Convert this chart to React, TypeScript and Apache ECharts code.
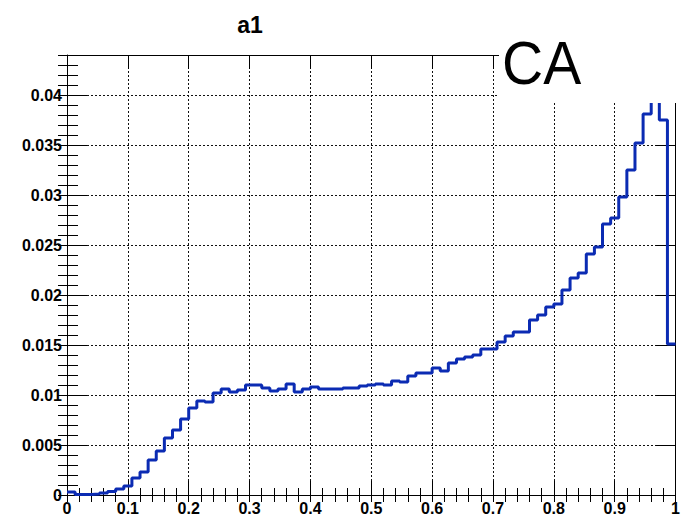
import React, { useEffect, useRef } from "react";
import * as echarts from "echarts";

const titleText = "a1";
const annotationText = "CA";
const xRange = [0, 1];
const yRange = [0, 0.044];
// 75 equal-width bins between 0 and 1
const binValues = [
  0.0003, 0.00005, 0.00005, 0.0001, 0.0002, 0.00035, 0.0006, 0.0009, 0.0017, 0.0023,
  0.0035, 0.0044, 0.0057, 0.0065, 0.0076, 0.0087, 0.0094, 0.0093, 0.0102, 0.0106,
  0.0103, 0.0105, 0.011, 0.011, 0.0107, 0.0104, 0.0106, 0.0111, 0.0103, 0.0106,
  0.0108, 0.0106, 0.0106, 0.0106, 0.0107, 0.0107, 0.0109, 0.011, 0.0111, 0.011,
  0.0114, 0.0113, 0.0119, 0.0122, 0.0122, 0.0127, 0.0124, 0.0132, 0.0136, 0.0138,
  0.014, 0.0146, 0.0146, 0.0153, 0.0159, 0.0163, 0.0163, 0.0175, 0.018, 0.0188,
  0.0191, 0.0205, 0.0217, 0.0222, 0.0241, 0.0248, 0.0271, 0.0277, 0.0298, 0.0325,
  0.0352, 0.0381, 0.0415, 0.0375, 0.0151,
];
const xTickLabels = ["0", "0.1", "0.2", "0.3", "0.4", "0.5", "0.6", "0.7", "0.8", "0.9", "1"];
const yTickLabels = ["0", "0.005", "0.01", "0.015", "0.02", "0.025", "0.03", "0.035", "0.04"];

export default function App() {
  const ref = useRef<HTMLDivElement>(null);
  useEffect(() => {
    const chart = echarts.init(ref.current!, null, { renderer: "svg" });
    const n = binValues.length;
    const w = (xRange[1] - xRange[0]) / n;
    const data: number[][] = binValues.map((v, i) => [xRange[0] + i * w, v]);
    data.push([xRange[1], binValues[n - 1]]);

    const font = "Liberation Sans";
    const black = "#000";
    const gridLine = { show: true, lineStyle: { color: "#111", type: [2, 2], width: 1 } };
    const frame = { show: true, onZero: false, lineStyle: { color: black, width: 1 } };
    const labelStyle = { color: black, fontFamily: font, fontWeight: "bold", fontSize: 16 };
    const xLabelFor = (v: number) => {
      const idx = Math.round(v * 10);
      return Math.abs(v * 10 - idx) < 1e-6 && xTickLabels[idx] !== undefined ? xTickLabels[idx] : "";
    };
    const yLabelFor = (v: number) => {
      const idx = Math.round(v / 0.005);
      return Math.abs(v / 0.005 - idx) < 1e-6 && yTickLabels[idx] !== undefined ? yTickLabels[idx] : "";
    };
    const tick = (len: number) => ({ show: true, inside: true, length: len, lineStyle: { color: black, width: 1 } });
    const xBase = { type: "value", min: xRange[0], max: xRange[1] };
    const yBase = { type: "value", min: yRange[0], max: yRange[1] };

    chart.setOption({
      animation: false,
      grid: { left: 67, right: 1, top: 55, bottom: 25 },
      xAxis: [
        {
          ...xBase, position: "bottom", interval: 0.1, axisLine: frame, axisTick: tick(14),
          splitLine: gridLine, axisLabel: { ...labelStyle, margin: 5, formatter: xLabelFor },
        },
        { ...xBase, position: "bottom", interval: 0.02, axisLine: { show: false }, axisTick: tick(7), splitLine: { show: false }, axisLabel: { show: false } },
        { ...xBase, position: "top", interval: 0.1, axisLine: frame, axisTick: tick(14), splitLine: { show: false }, axisLabel: { show: false } },
        { ...xBase, position: "top", interval: 0.02, axisLine: { show: false }, axisTick: tick(7), splitLine: { show: false }, axisLabel: { show: false } },
      ],
      yAxis: [
        {
          ...yBase, position: "left", interval: 0.005, axisLine: frame, axisTick: tick(20),
          splitLine: gridLine, axisLabel: { ...labelStyle, margin: 5, formatter: yLabelFor },
        },
        { ...yBase, position: "left", interval: 0.001, axisLine: { show: false }, axisTick: tick(11), splitLine: { show: false }, axisLabel: { show: false } },
        { ...yBase, position: "right", interval: 0.005, axisLine: frame, axisTick: tick(20), splitLine: { show: false }, axisLabel: { show: false } },
        { ...yBase, position: "right", interval: 0.001, axisLine: { show: false }, axisTick: tick(9), splitLine: { show: false }, axisLabel: { show: false } },
      ],
      series: [
        {
          type: "line",
          xAxisIndex: 0,
          yAxisIndex: 0,
          step: "end",
          data,
          showSymbol: false,
          symbol: "none",
          lineStyle: { color: "#0b2bb3", width: 3 },
          z: 5,
        },
      ],
      graphic: [
        { type: "rect", z: 100, shape: { x: 499, y: 0, width: 184, height: 103 }, style: { fill: "#fff" } },
        {
          type: "text", z: 101, x: 502, y: 63, scaleY: 1.08,
          style: { text: annotationText, font: `57px ${font}`, fill: black, textAlign: "left", textVerticalAlign: "middle" },
        },
        {
          type: "text", z: 101, x: 250, y: 25,
          style: { text: titleText, font: `bold 23px ${font}`, fill: black, textAlign: "center", textVerticalAlign: "middle" },
        },
      ],
    });
    return () => chart.dispose();
  }, []);
  return <div ref={ref} style={{ position: "fixed", left: 0, top: 0, width: 683, height: 520, background: "#fff" }} />;
}
